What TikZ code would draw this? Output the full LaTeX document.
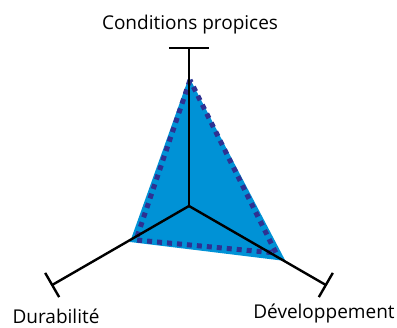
\documentclass[tikz,border=0pt]{standalone}
\usepackage{fontspec}
\setmainfont{Open Sans}
\definecolor{fillblue}{RGB}{0,146,214}
\definecolor{dotblue}{RGB}{46,49,146}
\newcount\mycount

\begin{document}
\begin{tikzpicture}[x=1pt,y=1pt,font=\fontsize{19}{23}\selectfont]
\useasboundingbox (-189,-122) rectangle (208,206);
\coordinate (O) at (0,0);
\fill[fillblue] (0,129) -- (-59,-36) -- (96.5,-55) -- cycle;
\draw[dotblue,line width=5pt,dash pattern=on 5pt off 5pt] (1,126) -- (-53,-34) -- (87,-47) -- cycle;
\foreach \number/\ticklen in {1/20,2/14,3/14}{
        \mycount=\number
        \advance\mycount by -1
  \multiply\mycount by 120
        \advance\mycount by 90
      \coordinate (A-\number) at (\the\mycount:158);
      \coordinate (T-\number-a) at ([shift={(\the\mycount+90:\ticklen)}]A-\number);
      \coordinate (T-\number-b) at ([shift={(\the\mycount-90:\ticklen)}]A-\number);
      \draw[line width=2.4pt] (O) -- (A-\number);
      \draw[line width=2.4pt] (T-\number-a) -- (T-\number-b);
    }
\node[anchor=base,inner sep=0pt] (L-1) at (1,176) {Conditions propices};
\node[anchor=base,inner sep=0pt] (L-2) at (-133,-118) {Durabilité};
\node[anchor=base,inner sep=0pt] (L-3) at (135,-113) {Développement};
\end{tikzpicture}
\end{document}
